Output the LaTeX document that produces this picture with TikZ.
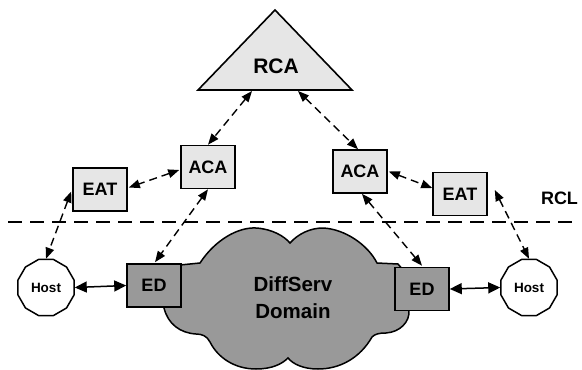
\documentclass[tikz,border=0pt]{standalone}
\usepackage{fontspec}
\setmainfont{Liberation Sans}
\usetikzlibrary{arrows.meta,shapes.geometric,calc}
\definecolor{lightfill}{RGB}{230,230,230}
\definecolor{darkfill}{RGB}{153,153,153}
\tikzset{
  lbox/.style={draw=black,line width=1.6pt,fill=lightfill,minimum width=54pt,minimum height=43pt,inner sep=0pt,font=\fontsize{18}{18}\selectfont\bfseries},
  dbox/.style={draw=black,line width=1.6pt,fill=darkfill,minimum width=54pt,minimum height=43pt,inner sep=0pt,font=\fontsize{18}{18}\selectfont\bfseries},
  hostnode/.style={draw=black,line width=1.5pt,fill=white,regular polygon,regular polygon sides=12,minimum size=58pt,inner sep=0pt,font=\fontsize{13.5}{13.5}\selectfont\bfseries},
  darrow/.style={line width=1.4pt,dash pattern=on 8pt off 5pt,{Triangle[length=11pt,width=8.5pt]}-{Triangle[length=11pt,width=8.5pt]}},
  sarrow/.style={line width=1.5pt,{Triangle[length=12pt,width=11pt]}-{Triangle[length=12pt,width=11pt]}},
  sepline/.style={line width=1.4pt,dash pattern=on 14pt off 8pt}
}
\begin{document}
\begin{tikzpicture}[x=1pt,y=-1pt]
\useasboundingbox[fill=white] (0,0) rectangle (582,370);
% cloud
\draw[line width=1.5pt,fill=darkfill]
  (170,266) -- (200,263)
  .. controls (215,240) and (238,227) .. (256,228)
  .. controls (272,229) and (284,236) .. (290,243)
  .. controls (298,234) and (310,228) .. (323,228)
  .. controls (345,229) and (368,245) .. (377,263)
  -- (398,264) -- (420,290) -- (409,310)
  .. controls (410,322) and (400,332) .. (386,333)
  .. controls (379,333) and (375,334) .. (372,337)
  .. controls (360,358) and (340,369) .. (318,369)
  .. controls (303,369) and (293,364) .. (288,358)
  .. controls (282,364) and (272,369) .. (256,369)
  .. controls (235,369) and (218,358) .. (210,342)
  .. controls (207,336) and (202,334) .. (196,334)
  .. controls (180,333) and (168,324) .. (164,308)
  -- (165,290) -- cycle;
\node[font=\fontsize{20.5}{27}\selectfont\bfseries,align=center] (dom) at (293,298) {DiffServ\\Domain};
% RCA triangle
\draw[line width=1.6pt,fill=lightfill] (198,90) -- (275,10) -- (352,90) -- cycle;
\node[font=\fontsize{21}{21}\selectfont\bfseries] (rca) at (276,66) {RCA};
\coordinate (rcaL) at (252,91);
\coordinate (rcaR) at (298,91);
% boxes
\node[lbox] (aca1) at (208,167) {ACA};
\node[lbox] (eat1) at (100,189.5) {EAT};
\node[lbox] (aca2) at (360,171.5) {ACA};
\node[lbox] (eat2) at (460,194) {EAT};
\node[dbox] (ed1) at (154,285.5) {ED};
\node[dbox] (ed2) at (422,289) {ED};
\node[hostnode] (h1) at (46,287.5) {Host};
\node[hostnode] (h2) at (529,287.5) {Host};
\node[font=\fontsize{18}{18}\selectfont\bfseries] (rcl) at (559.5,198.5) {RCL};
% separator
\coordinate (sepL) at (8,222);
\coordinate (sepR) at (577,222);
\draw[sepline] (sepL) -- (sepR);
% dashed connectors
\draw[darrow] (rcaL) -- (aca1.north);
\draw[darrow] (rcaR) -- ($(aca2.north)+(-2,0)$);
\draw[darrow] ($(aca1.west)+(-1,3)$) -- ($(eat1.east)+(1,-2)$);
\draw[darrow] ($(aca2.east)+(1,0)$) -- ($(eat2.west)+(0,-6)$);
\draw[darrow] ($(eat1.west)+(-1,2)$) -- (h1.north);
\draw[darrow] (aca1.south) -- ($(ed1.north)+(1,-1)$);
\draw[darrow] ($(aca2.south)+(2,0)$) -- ($(ed2.north)+(0,-1)$);
\draw[darrow] ($(eat2.east)+(7,-4)$) -- (h2.north);
% solid connectors
\draw[sarrow] (h1.east) -- (ed1.west);
\draw[sarrow] (ed2.east) -- (h2.west);
\end{tikzpicture}
\end{document}
